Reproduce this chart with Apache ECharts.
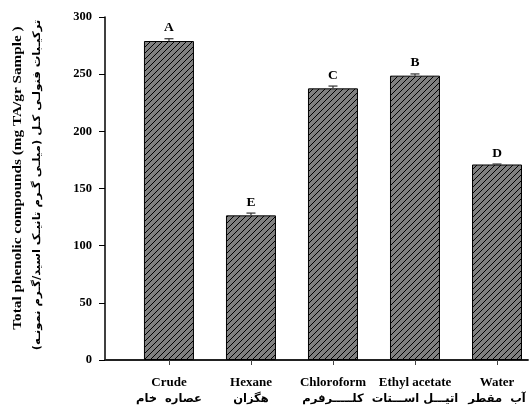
<!DOCTYPE html>
<html><head><meta charset="utf-8">
<script src="https://cdn.jsdelivr.net/npm/echarts@6/dist/echarts.min.js"></script>
<style>html,body{margin:0;padding:0;background:#fff}#c{width:532px;height:407px}</style>
</head><body><div id="c"></div>
<script>
const categoriesEn = ['Crude', 'Hexane', 'Chloroform', 'Ethyl acetate', 'Water'];
const categoriesFa = ['عصاره  خام', 'هگزان', 'کلـــــرفرم', 'اتیـــل اســـتات', 'آب  مقطر'];
const values = [279, 126.5, 237.6, 248.7, 171];
const errors = [2, 2, 2, 1.5, 0.4];
const letters = ['A', 'E', 'C', 'B', 'D'];
const yTitleEn = 'Total phenolic compounds (mg TA/gr Sample )';
const yTitleFa = '(ترکیـبات فنولـی کـل (میلـی گـرم تانیـک اسید/گـرم نمونـه';

const FONT = '"Liberation Serif", "Times New Roman", "DejaVu Sans", serif';

function hatch(){
  const S = 6;
  const c = document.createElement('canvas'); c.width = S; c.height = S;
  const g = c.getContext('2d');
  g.fillStyle = '#808080'; g.fillRect(0,0,S,S);
  g.strokeStyle = '#000'; g.lineWidth = 1;
  const seg = (x1,y1,x2,y2)=>{g.beginPath();g.moveTo(x1,y1);g.lineTo(x2,y2);g.stroke();};
  seg(0,S,S,0); seg(-1,1,1,-1); seg(S-1,S+1,S+1,S-1);
  return c;
}

const chart = echarts.init(document.getElementById('c'), null, {renderer:'canvas'});
const idx = values.map((v,i)=>i);
chart.setOption({
  animation:false,
  grid:{left:105, right:4, top:17, bottom:47},
  xAxis:{
    type:'value', min:-0.78, max:4.378,
    splitLine:{show:false},
    axisLine:{show:true, onZero:false, lineStyle:{color:'#222', width:1.8}},
    axisTick:{show:true, customValues:idx, length:5, inside:false, lineStyle:{color:'#444', width:1}},
    axisLabel:{show:true, customValues:idx, margin:14,
      formatter:(v)=>{const i=Math.round(v); return '{en|'+categoriesEn[i]+'}\n{fa|'+categoriesFa[i]+'}';},
      rich:{
        en:{fontFamily:FONT, fontWeight:'bold', fontSize:13, color:'#000', lineHeight:17},
        fa:{fontFamily:'"DejaVu Sans", sans-serif', fontWeight:'bold', fontSize:11.5, color:'#000', lineHeight:17}
      }}
  },
  yAxis:{
    type:'value', min:0, max:300, interval:50,
    splitLine:{show:false},
    axisLine:{show:true, onZero:false, lineStyle:{color:'#000', width:1.5}},
    axisTick:{show:true, length:6, lineStyle:{color:'#000', width:1}},
    axisLabel:{margin:13, fontFamily:FONT, fontWeight:'bold', fontSize:12.5, color:'#000'}
  },
  series:[
    {
      type:'bar', barWidth:50,
      data: values.map((v,i)=>[i,v]),
      itemStyle:{color:{image:hatch(), repeat:'repeat'}, borderColor:'#000', borderWidth:1},
      z:2
    },
    {
      type:'custom',
      data: values.map((v,i)=>[i,v,errors[i]]),
      renderItem:(params, api)=>{
        const x = api.value(0), v = api.value(1), e = api.value(2);
        const p0 = api.coord([x, v]);
        const p1 = api.coord([x, v+e]);
        const hw = 4.5;
        const style = {stroke:'#333', lineWidth:1.2};
        return {type:'group', children:[
          {type:'line', shape:{x1:p0[0], y1:p0[1], x2:p1[0], y2:p1[1]}, style},
          {type:'line', shape:{x1:p1[0]-hw, y1:p1[1], x2:p1[0]+hw, y2:p1[1]}, style},
          {type:'text', x:p1[0], y:p1[1]-4, style:{text:letters[params.dataIndex], align:'center', verticalAlign:'bottom',
            font:'bold 13.5px '+FONT, fill:'#000'}}
        ]};
      },
      z:3
    }
  ],
  graphic:[
    {type:'text', x:18, y:178, rotation:Math.PI/2, scaleX:1.22,
      style:{text:yTitleEn, align:'center', verticalAlign:'middle', font:'bold 12.5px '+FONT, fill:'#000'}},
    {type:'text', x:37, y:185, rotation:Math.PI/2, scaleX:1.1,
      style:{text:yTitleFa, align:'center', verticalAlign:'middle', font:'bold 10.5px "DejaVu Sans", sans-serif', fill:'#000'}}
  ]
});
</script></body></html>
